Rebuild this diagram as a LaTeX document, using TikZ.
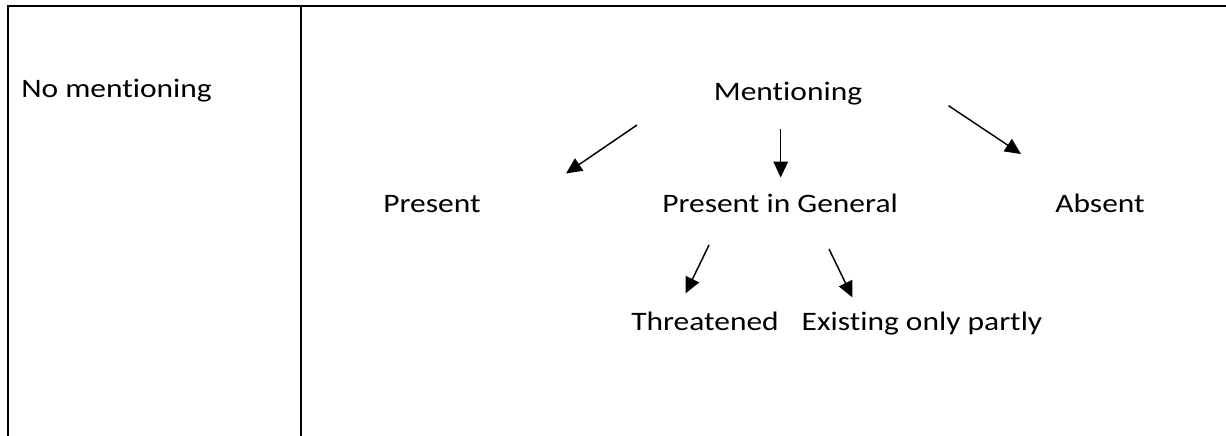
\documentclass[tikz,border=0pt]{standalone}
\usepackage{fontspec}
\setmainfont[FakeStretch=1.18,Ligatures=NoCommon]{Carlito}
\usetikzlibrary{arrows.meta}
\tikzset{
  rule/.style={line width=1.5pt, line cap=rect},
  lbl/.style={anchor=base, inner sep=0pt, font=\fontsize{20}{24}\selectfont},
  arr/.style={line width=1.1pt, -{Triangle[length=12pt,width=11pt]}},
}
\begin{document}
\begin{tikzpicture}[x=0.75pt,y=-0.75pt]
\useasboundingbox (0,0) rectangle (1226,435);
% table rules
\coordinate (tl) at (7.5,5.8);
\coordinate (tr) at (1226,5.8);
\coordinate (bl) at (7.5,435);
\coordinate (dt) at (300.5,5.8);
\coordinate (db) at (300.5,435);
\draw[rule] (tr) -- (tl) -- (bl);
\draw[rule] (dt) -- (db);
% texts
\node[lbl, anchor=base west] (nm) at (21,97) {No mentioning};
\node[lbl] (m) at (788,100) {Mentioning};
\node[lbl] (p) at (432,212) {Present};
\node[lbl] (pg) at (780,212) {Present in General};
\node[lbl] (ab) at (1100,212) {Absent};
\node[lbl] (th) at (705,330) {Threatened};
\node[lbl] (ex) at (922,330) {Existing only partly};
% arrow ends
\coordinate (m1) at (637,125);
\coordinate (p1) at (566,173.5);
\coordinate (m2) at (780.7,129);
\coordinate (g1) at (780.7,177.5);
\coordinate (m3) at (948.5,105.7);
\coordinate (a1) at (1021,154);
\coordinate (g2) at (709,245);
\coordinate (t1) at (685.5,293.5);
\coordinate (g3) at (829,249);
\coordinate (e1) at (852.5,297.5);
\draw[arr] (m1) -- (p1);
\draw[arr] (m2) -- (g1);
\draw[arr] (m3) -- (a1);
\draw[arr] (g2) -- (t1);
\draw[arr] (g3) -- (e1);
\end{tikzpicture}
\end{document}
